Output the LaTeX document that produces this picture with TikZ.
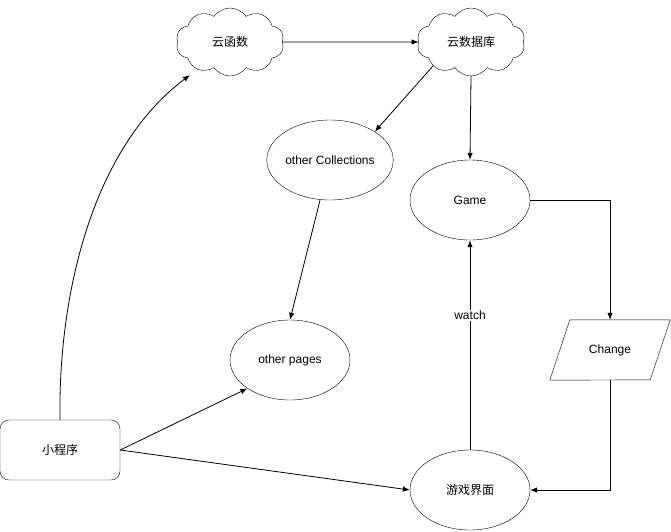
\documentclass[tikz,border=0pt]{standalone}
\usepackage{fontspec}
\setmainfont{Liberation Sans}
\newfontfamily\cjk{Noto Sans CJK SC}
\usetikzlibrary{shapes.symbols,shapes.geometric,arrows.meta}
\begin{document}
\begin{tikzpicture}[x=1pt,y=-1pt,
  every node/.style={font=\fontsize{12}{14}\selectfont},
  cloudbox/.style={cloud, cloud puffs=10, cloud puff arc=110, aspect=1.6, draw, minimum width=108pt, minimum height=68pt, inner sep=0pt},
  ellbox/.style={ellipse, draw, minimum width=120pt, minimum height=80pt, inner sep=0pt},
  rbox/.style={rectangle, rounded corners=9pt, draw, minimum width=120pt, minimum height=60pt},
  pbox/.style={rectangle, minimum width=120pt, minimum height=60pt, inner sep=0pt},
  conn/.style={draw, -{Latex[length=7pt,width=5.5pt]}, line width=0.8pt},
  lbl/.style={fill=white, inner sep=1pt}
]
\useasboundingbox (0,0) rectangle (671,531);
\node[cloudbox] (yhs) at (230,42) {\cjk 云函数};
\node[cloudbox] (ysjk) at (471,42) {\cjk 云数据库};
\node[ellbox] (oc) at (330,160) {other Collections};
\node[ellbox] (game) at (470,200) {Game};
\node[ellbox] (op) at (290,360) {other pages};
\node[ellbox] (yxjm) at (470,490) {\cjk 游戏界面};
\node[rbox] (xcx) at (60,450) {\cjk 小程序};
\node[pbox] (chg) at (610,350) {Change};
\draw (chg.north west) ++(20,0) -- (chg.north east) -- ++(-20,60) -- (chg.south west) -- cycle;

\draw[conn] (yhs.east) -- (ysjk.west);
\draw[conn] (xcx.north) .. controls (58,300) and (90,150) .. (190,75);
\draw[conn] (ysjk.south west) -- (oc.north east);
\draw[conn] (ysjk.south) -- (game.north);
\draw[conn] (oc.south) ++(-10,0) -- (op.north);
\draw[conn] (game.east) -| (chg.north);
\draw[conn] (chg.south) |- (yxjm.east);
\draw[conn] (yxjm.north) -- node[lbl, pos=0.64] {watch} (game.south);
\draw[conn] (xcx.east) -- (op.south west);
\draw[conn] (xcx.east) -- (yxjm.west);
\end{tikzpicture}
\end{document}
